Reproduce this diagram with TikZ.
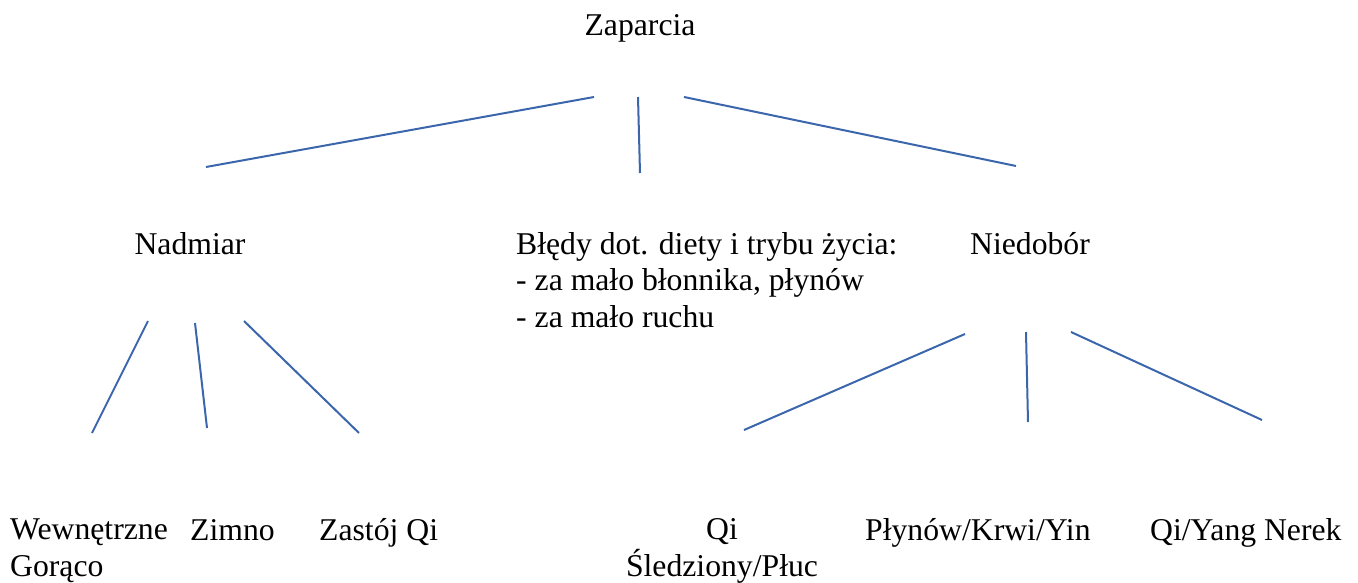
\documentclass[tikz,border=0pt]{standalone}
\usepackage{fontspec}
\setmainfont{Liberation Serif}
\definecolor{linkblue}{HTML}{3B66AC}
\begin{document}
\begin{tikzpicture}[x=1pt,y=-1pt,
  lbl/.style={inner sep=0pt,font=\fontsize{31.7}{36.5}\selectfont},
  link/.style={draw=linkblue,line width=2pt}]
\useasboundingbox (0,0) rectangle (1358,583);
% texts (multi-line nodes: base = last line)
\node[lbl,anchor=base] (root) at (640,36) {Zaparcia};
\node[lbl,anchor=base] (nad) at (190,254) {Nadmiar};
\node[lbl,anchor=base west,align=left] (bledy) at (516,327) {Błędy dot. diety i trybu życia:\\- za mało błonnika, płynów\\- za mało ruchu};
\node[lbl,anchor=base] (nie) at (1030,254) {Niedobór};
\node[lbl,anchor=base west,align=left] (wew) at (10,576) {Wewnętrzne\\Gorąco};
\node[lbl,anchor=base west] (zim) at (190,540) {Zimno};
\node[lbl,anchor=base west] (zas) at (319,540) {Zastój Qi};
\node[lbl,anchor=base,align=center] (qis) at (722,576) {Qi\\Śledziony/Płuc};
\node[lbl,anchor=base west] (ply) at (865,540) {Płynów/Krwi/Yin};
\node[lbl,anchor=base west] (qiy) at (1150,540) {Qi/Yang Nerek};
% connector ends
\coordinate (r1) at (594,97);  \coordinate (n1) at (206,167);
\coordinate (r2) at (638,97);  \coordinate (b1) at (640,173);
\coordinate (r3) at (684,97);  \coordinate (d1) at (1016,166);
\coordinate (na1) at (148,321); \coordinate (w1) at (92,433);
\coordinate (na2) at (195,323); \coordinate (z1) at (207,428);
\coordinate (na3) at (244,321); \coordinate (s1) at (359,433);
\coordinate (ni1) at (965,334); \coordinate (q1) at (744,430);
\coordinate (ni2) at (1026,332); \coordinate (p1) at (1028,422);
\coordinate (ni3) at (1071,332); \coordinate (y1) at (1262,420);
\draw[link] (r1) -- (n1);
\draw[link] (r2) -- (b1);
\draw[link] (r3) -- (d1);
\draw[link] (na1) -- (w1);
\draw[link] (na2) -- (z1);
\draw[link] (na3) -- (s1);
\draw[link] (ni1) -- (q1);
\draw[link] (ni2) -- (p1);
\draw[link] (ni3) -- (y1);
\end{tikzpicture}
\end{document}
